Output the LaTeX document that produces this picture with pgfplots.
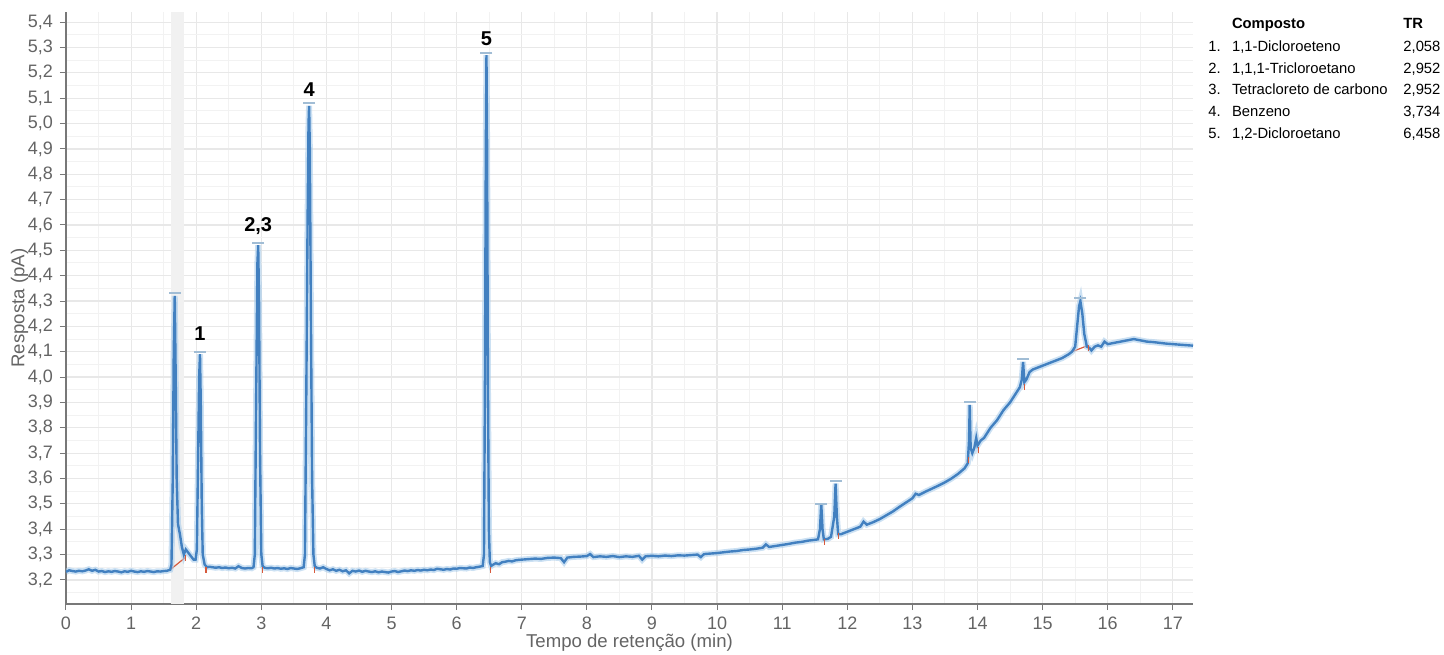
\documentclass[border=0pt]{standalone}
\usepackage{fontspec}
\setmainfont{Liberation Sans}
\usepackage{pgfplots}
\pgfplotsset{compat=1.18}
\definecolor{curve}{RGB}{66,128,192}
\definecolor{halo}{RGB}{170,205,235}
\definecolor{tickgray}{RGB}{100,100,100}
\definecolor{axgray}{RGB}{120,120,120}
\definecolor{intred}{RGB}{215,90,60}
\begin{document}
\begin{tikzpicture}
\path[use as bounding box] (0,0) rectangle (722pt,327pt);
\begin{axis}[
  scale only axis, width=563.5pt, height=296pt,
  at={(33pt,25pt)}, anchor=south west,
  xmin=0, xmax=17.31, ymin=3.105, ymax=5.44,
  axis x line*=bottom, axis y line*=left,
  axis line style={axgray, line width=0.6pt},
  xtick={0,1,...,17}, minor xtick={0.5,1.5,...,17.5},
  ytick={3.2,3.3,...,5.41}, minor ytick={3.15,3.25,...,5.45},
  tick align=outside, major tick length=3pt, minor tick length=0pt,
  tick style={axgray, line width=0.5pt},
  grid=both,
  major grid style={gray!18, line width=0.6pt},
  minor grid style={gray!10, line width=0.5pt},
  ticklabel style={font=\fontsize{9}{10}\selectfont, text=tickgray},
  /pgf/number format/assume math mode=true,
  yticklabel style={/pgf/number format/.cd, use comma, fixed, fixed zerofill, precision=1},
  xticklabel style={/pgf/number format/.cd, use comma, fixed, precision=0},
  xlabel={Tempo de retenção (min)}, ylabel={Resposta (pA)},
  label style={font=\fontsize{9.3}{10}\selectfont, text=tickgray},
  xlabel style={yshift=5pt},
  ylabel style={yshift=-7pt},
  clip=true,
]
\fill[gray!11] (axis cs:1.61,3.105) rectangle (axis cs:1.81,5.44);
% integration baselines
\addplot[intred, line width=0.6pt] coordinates {(1.60,3.240)(1.84,3.290)};
\addplot[intred, line width=0.6pt] coordinates {(15.45,4.100)(15.70,4.125)};
\addplot[intred, only marks, mark=|, mark size=1.5pt, mark options={line width=0.6pt}] coordinates {
(1.84,3.285)(2.15,3.24)(3.02,3.24)(3.82,3.24)(6.52,3.24)(11.65,3.348)(11.87,3.372)(13.86,3.672)(14.02,3.712)(14.72,3.962)(15.70,4.115)};
\pgfplotstableread{
x y
0 3.232
0.05 3.238
0.1 3.235
0.15 3.233
0.2 3.236
0.25 3.234
0.3 3.237
0.35 3.242
0.4 3.236
0.45 3.240
0.5 3.233
0.55 3.235
0.6 3.231
0.65 3.234
0.7 3.232
0.75 3.235
0.8 3.233
0.85 3.230
0.9 3.234
0.95 3.232
1.0 3.236
1.05 3.233
1.1 3.231
1.15 3.234
1.2 3.232
1.25 3.235
1.3 3.233
1.35 3.231
1.4 3.234
1.45 3.233
1.5 3.235
1.55 3.236
1.6 3.240
1.62 3.26
1.64 3.6
1.655 4.1
1.67 4.32
1.685 4.0
1.70 3.6
1.72 3.42
1.75 3.38
1.78 3.33
1.81 3.30
1.84 3.32
1.87 3.31
1.90 3.30
1.93 3.29
1.96 3.28
1.99 3.28
2.01 3.32
2.03 3.7
2.045 4.0
2.058 4.09
2.07 3.9
2.085 3.5
2.10 3.30
2.13 3.26
2.17 3.25
2.2 3.252
2.25 3.25
2.3 3.248
2.35 3.25
2.4 3.247
2.45 3.249
2.5 3.246
2.55 3.248
2.6 3.245
2.65 3.254
2.7 3.247
2.75 3.245
2.8 3.247
2.85 3.246
2.88 3.25
2.90 3.30
2.92 3.9
2.94 4.45
2.952 4.52
2.965 4.3
2.98 3.7
3.0 3.30
3.02 3.255
3.05 3.248
3.1 3.246
3.15 3.248
3.2 3.245
3.25 3.247
3.3 3.244
3.35 3.246
3.4 3.243
3.45 3.247
3.5 3.245
3.55 3.243
3.6 3.246
3.65 3.25
3.67 3.30
3.69 3.9
3.71 4.6
3.725 5.0
3.734 5.07
3.745 4.9
3.76 4.3
3.78 3.6
3.80 3.3
3.82 3.255
3.85 3.248
3.9 3.245
3.95 3.25
4.0 3.243
4.05 3.238
4.1 3.242
4.15 3.236
4.2 3.240
4.25 3.234
4.3 3.238
4.35 3.226
4.4 3.236
4.45 3.233
4.5 3.237
4.55 3.232
4.6 3.236
4.65 3.233
4.7 3.231
4.75 3.234
4.8 3.230
4.85 3.233
4.9 3.231
4.95 3.229
5.0 3.233
5.05 3.235
5.1 3.231
5.15 3.234
5.2 3.237
5.25 3.235
5.3 3.238
5.35 3.236
5.4 3.239
5.45 3.237
5.5 3.240
5.55 3.238
5.6 3.241
5.65 3.239
5.7 3.244
5.75 3.242
5.8 3.240
5.85 3.243
5.9 3.241
5.95 3.245
6.0 3.244
6.05 3.247
6.1 3.246
6.15 3.245
6.2 3.249
6.25 3.247
6.3 3.250
6.35 3.252
6.4 3.255
6.42 3.30
6.435 4.0
6.448 4.9
6.458 5.27
6.468 4.9
6.48 4.0
6.495 3.4
6.51 3.27
6.53 3.255
6.56 3.26
6.6 3.266
6.65 3.262
6.7 3.270
6.75 3.272
6.8 3.275
6.85 3.273
6.9 3.277
6.95 3.279
7.0 3.280
7.1 3.282
7.2 3.284
7.3 3.283
7.4 3.287
7.5 3.288
7.6 3.286
7.65 3.270
7.7 3.288
7.8 3.291
7.9 3.292
8.0 3.294
8.05 3.302
8.1 3.290
8.2 3.293
8.3 3.291
8.4 3.294
8.5 3.290
8.6 3.293
8.7 3.291
8.8 3.295
8.85 3.280
8.9 3.293
9.0 3.295
9.1 3.293
9.2 3.296
9.3 3.294
9.4 3.297
9.5 3.296
9.6 3.298
9.7 3.300
9.75 3.290
9.8 3.302
9.9 3.304
10.0 3.306
10.1 3.309
10.2 3.312
10.3 3.314
10.4 3.318
10.5 3.320
10.6 3.323
10.7 3.327
10.75 3.34
10.8 3.330
10.9 3.334
11.0 3.338
11.1 3.342
11.2 3.347
11.3 3.350
11.4 3.355
11.5 3.358
11.55 3.36
11.58 3.40
11.6 3.50
11.62 3.40
11.64 3.36
11.7 3.362
11.75 3.37
11.8 3.45
11.82 3.58
11.84 3.45
11.86 3.38
11.9 3.380
12.0 3.390
12.1 3.400
12.2 3.410
12.25 3.43
12.3 3.418
12.4 3.428
12.5 3.440
12.6 3.455
12.7 3.470
12.8 3.488
12.9 3.505
13.0 3.522
13.05 3.54
13.1 3.535
13.2 3.548
13.3 3.560
13.4 3.572
13.5 3.585
13.6 3.600
13.7 3.618
13.8 3.640
13.85 3.66
13.87 3.75
13.88 3.89
13.895 3.72
13.92 3.70
13.95 3.72
13.98 3.76
14.0 3.73
14.05 3.75
14.1 3.76
14.15 3.78
14.2 3.80
14.3 3.83
14.4 3.87
14.5 3.90
14.6 3.94
14.65 3.96
14.68 3.99
14.7 4.06
14.72 3.98
14.75 3.99
14.8 4.02
14.85 4.03
14.9 4.035
15.0 4.045
15.1 4.055
15.2 4.065
15.3 4.075
15.4 4.09
15.45 4.10
15.5 4.12
15.53 4.20
15.56 4.28
15.58 4.30
15.61 4.25
15.64 4.17
15.68 4.12
15.72 4.115
15.75 4.105
15.8 4.12
15.85 4.125
15.9 4.12
15.95 4.14
16.0 4.13
16.1 4.135
16.2 4.14
16.3 4.145
16.4 4.15
16.5 4.145
16.6 4.14
16.7 4.138
16.8 4.135
16.9 4.132
17.0 4.13
17.1 4.128
17.2 4.126
17.31 4.124
}\chrom
\addplot[halo, line width=3pt, opacity=0.6] table[x=x,y=y] {\chrom};
\addplot[curve, line width=1.2pt] table[x=x,y=y] {\chrom};
\addplot[halo!80!gray, only marks, mark=-, mark size=3pt, mark options={line width=1pt}] coordinates {
(1.67,4.33)(2.058,4.10)(2.952,4.53)(3.734,5.08)(6.458,5.28)(11.6,3.50)(11.82,3.59)(13.88,3.90)(14.7,4.07)(15.58,4.31)};
\node[font=\bfseries\fontsize{10}{11}\selectfont] at (axis cs:2.058,4.17) {1};
\node[font=\bfseries\fontsize{10}{11}\selectfont] at (axis cs:2.952,4.595) {2,3};
\node[font=\bfseries\fontsize{10}{11}\selectfont] at (axis cs:3.734,5.135) {4};
\node[font=\bfseries\fontsize{10}{11}\selectfont] at (axis cs:6.458,5.335) {5};
\end{axis}
\begin{scope}[every node/.style={inner sep=0pt, anchor=base west, font=\fontsize{7.4}{8}\selectfont}]
\node[font=\bfseries\fontsize{7.4}{8}\selectfont] at (615.8pt,312.5pt) {Composto};
\node[font=\bfseries\fontsize{7.4}{8}\selectfont] at (701.5pt,312.5pt) {TR};
\node at (604pt,301.2pt) {1.};
\node at (615.8pt,301.2pt) {1,1-Dicloroeteno};
\node at (701.5pt,301.2pt) {2,058};
\node at (604pt,290.3pt) {2.};
\node at (615.8pt,290.3pt) {1,1,1-Tricloroetano};
\node at (701.5pt,290.3pt) {2,952};
\node at (604pt,279.5pt) {3.};
\node at (615.8pt,279.5pt) {Tetracloreto de carbono};
\node at (701.5pt,279.5pt) {2,952};
\node at (604pt,268.7pt) {4.};
\node at (615.8pt,268.7pt) {Benzeno};
\node at (701.5pt,268.7pt) {3,734};
\node at (604pt,257.8pt) {5.};
\node at (615.8pt,257.8pt) {1,2-Dicloroetano};
\node at (701.5pt,257.8pt) {6,458};
\end{scope}
\end{tikzpicture}
\end{document}
